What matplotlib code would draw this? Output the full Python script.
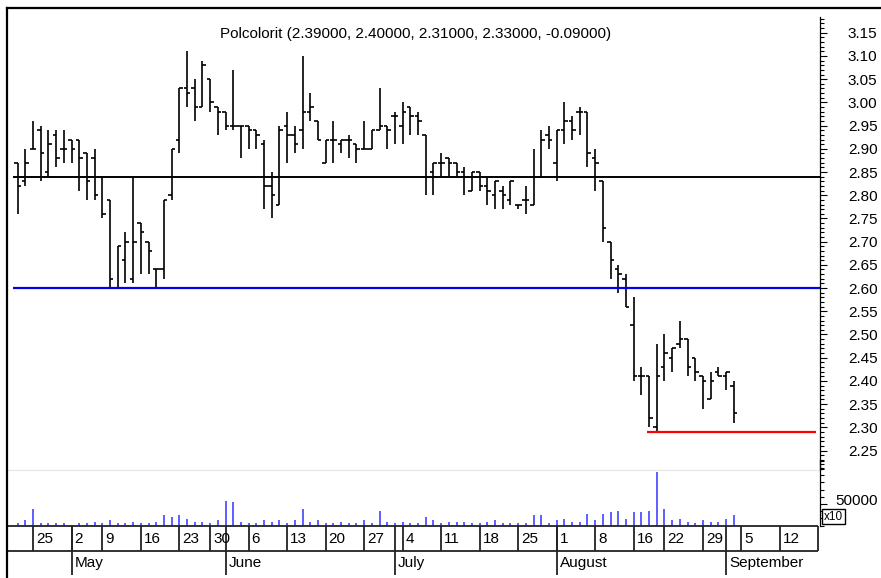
import numpy as np
import matplotlib
matplotlib.use('Agg')
import matplotlib.pyplot as plt
import matplotlib.transforms as mtransforms
from matplotlib.lines import Line2D
from matplotlib.ticker import MultipleLocator, FixedLocator

# daily bars, one entry per trading day (late April .. early September)
opens = [2.87, 2.83, 2.90, 2.94, 2.85, 2.93, 2.90, 2.92, 2.92, 2.89,
	2.88, 2.84, 2.79, 2.60, 2.66, 2.62, 2.74, 2.70, 2.64, 2.64,
	2.80, 2.92, 3.03, 3.03, 2.99, 3.05, 2.99, 2.98, 2.95, 2.95,
	2.95, 2.94, 2.91, 2.82, 2.78, 2.95, 2.93, 2.94, 2.98, 2.96,
	2.87, 2.92, 2.91, 2.92, 2.91, 2.90, 2.90, 2.94, 2.95, 2.97,
	2.95, 2.99, 2.97, 2.93, 2.85, 2.87, 2.88, 2.87, 2.85, 2.81,
	2.85, 2.82, 2.80, 2.81, 2.79, 2.78, 2.79, 2.78, 2.84, 2.93,
	2.87, 2.94, 2.96, 2.98, 2.98, 2.88, 2.83, 2.70, 2.64, 2.62,
	2.52, 2.41, 2.41, 2.30, 2.43, 2.45, 2.48, 2.49, 2.45, 2.41,
	2.36, 2.42, 2.41, 2.39]
highs = [2.87, 2.90, 2.96, 2.95, 2.94, 2.94, 2.94, 2.92, 2.92, 2.89,
	2.90, 2.84, 2.79, 2.69, 2.72, 2.84, 2.74, 2.70, 2.64, 2.79,
	2.90, 3.03, 3.11, 3.05, 3.09, 3.05, 2.99, 2.98, 3.07, 2.95,
	2.95, 2.94, 2.92, 2.85, 2.95, 2.98, 2.95, 3.10, 3.02, 2.96,
	2.92, 2.96, 2.92, 2.93, 2.91, 2.96, 2.94, 3.03, 2.95, 2.98,
	3.00, 2.99, 2.98, 2.93, 2.87, 2.89, 2.88, 2.87, 2.86, 2.85,
	2.85, 2.84, 2.83, 2.82, 2.83, 2.78, 2.82, 2.90, 2.94, 2.95,
	2.94, 3.00, 2.97, 2.99, 2.98, 2.90, 2.83, 2.70, 2.65, 2.63,
	2.58, 2.43, 2.41, 2.48, 2.50, 2.47, 2.53, 2.49, 2.45, 2.41,
	2.42, 2.43, 2.42, 2.40]
lows = [2.76, 2.82, 2.90, 2.83, 2.84, 2.86, 2.87, 2.87, 2.81, 2.79,
	2.79, 2.75, 2.60, 2.60, 2.61, 2.61, 2.63, 2.63, 2.60, 2.62,
	2.79, 2.89, 2.99, 2.96, 2.99, 2.98, 2.93, 2.94, 2.94, 2.88,
	2.90, 2.90, 2.77, 2.75, 2.78, 2.87, 2.89, 2.90, 2.96, 2.92,
	2.87, 2.87, 2.89, 2.88, 2.87, 2.90, 2.90, 2.94, 2.90, 2.91,
	2.91, 2.93, 2.93, 2.80, 2.80, 2.84, 2.84, 2.84, 2.80, 2.81,
	2.81, 2.78, 2.77, 2.77, 2.78, 2.77, 2.76, 2.78, 2.84, 2.90,
	2.83, 2.91, 2.92, 2.93, 2.86, 2.81, 2.70, 2.62, 2.59, 2.56,
	2.40, 2.37, 2.30, 2.29, 2.40, 2.42, 2.47, 2.41, 2.40, 2.34,
	2.36, 2.41, 2.38, 2.31]
closes = [2.82, 2.87, 2.90, 2.89, 2.91, 2.88, 2.90, 2.90, 2.88, 2.83,
	2.80, 2.76, 2.62, 2.69, 2.70, 2.70, 2.72, 2.68, 2.64, 2.79,
	2.90, 3.03, 3.02, 2.99, 3.08, 3.00, 2.98, 2.95, 2.95, 2.95,
	2.94, 2.93, 2.82, 2.80, 2.94, 2.93, 2.91, 2.98, 2.99, 2.92,
	2.92, 2.92, 2.92, 2.92, 2.90, 2.90, 2.94, 2.95, 2.94, 2.97,
	2.98, 2.97, 2.96, 2.84, 2.87, 2.87, 2.87, 2.85, 2.84, 2.85,
	2.82, 2.81, 2.83, 2.80, 2.83, 2.78, 2.79, 2.84, 2.92, 2.92,
	2.94, 2.96, 2.94, 2.98, 2.89, 2.87, 2.73, 2.66, 2.63, 2.56,
	2.41, 2.41, 2.32, 2.41, 2.46, 2.47, 2.49, 2.43, 2.42, 2.40,
	2.40, 2.41, 2.42, 2.33]
# volume in units of x10 shares
volumes = [7000, 13000, 38000, 5500, 5500, 5500, 5500, 2500, 5500, 5500,
	8500, 5500, 13000, 5500, 5500, 8500, 5500, 5500, 8500, 24000,
	21000, 24000, 15000, 8500, 8500, 5500, 13000, 57000, 54000, 8500,
	5500, 5500, 13000, 8500, 13000, 5500, 13000, 38000, 8500, 13000,
	5500, 5500, 8500, 5500, 5500, 13000, 5500, 35000, 8500, 5500,
	8500, 5500, 5500, 20000, 13000, 5500, 8500, 8500, 8500, 5500,
	5500, 8500, 13000, 5500, 5500, 5500, 5500, 24000, 24000, 5500,
	13000, 15000, 8500, 8500, 27000, 13000, 27000, 31000, 35000, 15000,
	31000, 31000, 35000, 123000, 38000, 13000, 15000, 8500, 5500, 13000,
	8500, 8500, 15000, 24000]

week_labels = ['18', '25', '2', '9', '16', '23', '30', '6', '13', '20', '27',
	'4', '11', '18', '25', '1', '8', '16', '22', '29', '5', '12']
week_pos = [-3, 2, 7, 11, 16, 21, 25, 30, 35, 40, 45, 50, 55, 60, 65, 70,
	75, 80, 84, 89, 94, 99]
month_labels = ['May', 'June', 'July', 'August', 'September']
month_pos = [7, 27, 49, 70, 92]

# horizontal levels drawn on the chart: (price, first day)
level_black = (2.84, -0.6)
level_blue = (2.60, -0.6)
level_red = (2.29, 81.7)

W, H = 881, 578


def fx(px):
	return px / W


def fy(py):
	return 1 - py / H


def main():
	plt.rcParams['font.family'] = ['Liberation Sans', 'DejaVu Sans']

	fig = plt.figure(figsize=(W / 100, H / 100), dpi=100)
	fig.patch.set_facecolor('white')

	idx = np.arange(len(closes))
	xlim = (-1.38, 104.2)

	# ---------------- price panel ----------------
	ax = fig.add_axes([fx(7), fy(470), fx(820) - fx(7), fy(17) - fy(470)])
	ax.set_facecolor('none')
	ax.set_xlim(*xlim)
	ax.set_ylim(2.208, 3.184)

	ax.vlines(idx, lows, highs, color='black', lw=1.2)
	ax.hlines(opens, idx - 0.45, idx, color='black', lw=1.2)
	ax.hlines(closes, idx, idx + 0.45, color='black', lw=1.2)

	ax.hlines(level_black[0], level_black[1], xlim[1], color='black', lw=1.4)
	ax.hlines(level_blue[0], level_blue[1], xlim[1], color='#0000ee', lw=1.6)
	ax.hlines(level_red[0], level_red[1], xlim[1] - 0.5, color='#ff0000', lw=1.6)

	ax.yaxis.tick_right()
	ax.yaxis.set_major_locator(MultipleLocator(0.05))
	ax.yaxis.set_minor_locator(MultipleLocator(0.01))
	ax.yaxis.set_major_formatter(plt.FormatStrFormatter('%.2f'))
	ax.tick_params(axis='y', which='major', length=5, width=0.8, pad=15, labelsize=11)
	ax.tick_params(axis='y', which='minor', length=3, width=0.8)
	ax.set_xticks([])
	for s in ['top', 'left']:
		ax.spines[s].set_visible(False)
	ax.spines['right'].set_linewidth(0.9)
	ax.spines['bottom'].set_color('#e6e6e6')
	ax.spines['bottom'].set_linewidth(0.8)

	# ---------------- volume panel ----------------
	av = fig.add_axes([fx(7), fy(525.7), fx(820) - fx(7), fy(460) - fy(525.7)])
	av.set_facecolor('none')
	av.set_xlim(*xlim)
	av.set_ylim(0, 151400)
	av.vlines(idx, 0, volumes, color='#3333ff', lw=1.1)
	av.yaxis.tick_right()
	av.yaxis.set_major_locator(FixedLocator([50000]))
	av.yaxis.set_minor_locator(MultipleLocator(50000 / 3))
	av.set_yticklabels(['50000'])
	av.tick_params(axis='y', which='major', length=5, width=0.8, pad=6, labelsize=11)
	av.tick_params(axis='y', which='minor', length=3, width=0.8)
	# lift the label a little so the x10 box sits just under it
	lift = mtransforms.ScaledTranslation(0, 3 / 72, fig.dpi_scale_trans)
	for lab in av.get_yticklabels():
		lab.set_transform(lab.get_transform() + lift)
	av.set_xticks([])
	for s in ['top', 'left', 'bottom']:
		av.spines[s].set_visible(False)
	av.spines['right'].set_linewidth(0.9)

	# ---------------- date rows ----------------
	ad = fig.add_axes([fx(7), 0, fx(820) - fx(7), fy(525.7)])
	ad.set_xlim(*xlim)
	ad.set_ylim(0, 1)
	ad.axis('off')
	row_end = week_pos[-1] + 5
	mid = 0.522
	ad.hlines([1.0, mid], xlim[0], row_end, color='#222222', lw=1.3, clip_on=False)
	ad.vlines(row_end, mid, 1.0, color='#222222', lw=1.3)
	ad.vlines(week_pos, mid, 1.0, color='#222222', lw=1.3)
	ad.vlines(month_pos, 0.057, 1.0, color='#222222', lw=1.3)
	for p, lab in zip(week_pos, week_labels):
		ad.annotate(lab, (p, 0.746), xytext=(2.2, 0), textcoords='offset points',
			ha='left', va='center', fontsize=11, clip_on=True)
	for p, lab in zip(month_pos, month_labels):
		ad.annotate(lab, (p, 0.287), xytext=(2.2, 0), textcoords='offset points',
			ha='left', va='center', fontsize=11)

	# outer frame (left and top)
	fig.add_artist(Line2D([fx(7), fx(7)], [fy(8), 0], color='black', lw=1.6))
	fig.add_artist(Line2D([fx(7), 1], [fy(8), fy(8)], color='black', lw=1.6))

	# title with last bar values
	chg = closes[-1] - closes[-2]
	title = 'Polcolorit (%.5f, %.5f, %.5f, %.5f, %.5f)' % (opens[-1], highs[-1], lows[-1], closes[-1], chg)
	fig.text(fx(416), fy(34), title, ha='center', va='center', fontsize=11)

	# volume multiplier box
	fig.text(fx(833.5), fy(516.5), 'x10', ha='center', va='center', fontsize=8.5, zorder=10,
		bbox=dict(boxstyle='square,pad=0.15', fc='white', ec='black', lw=1.0))

	fig.savefig('out.png', dpi=100)


if __name__ == "__main__":
	main()
